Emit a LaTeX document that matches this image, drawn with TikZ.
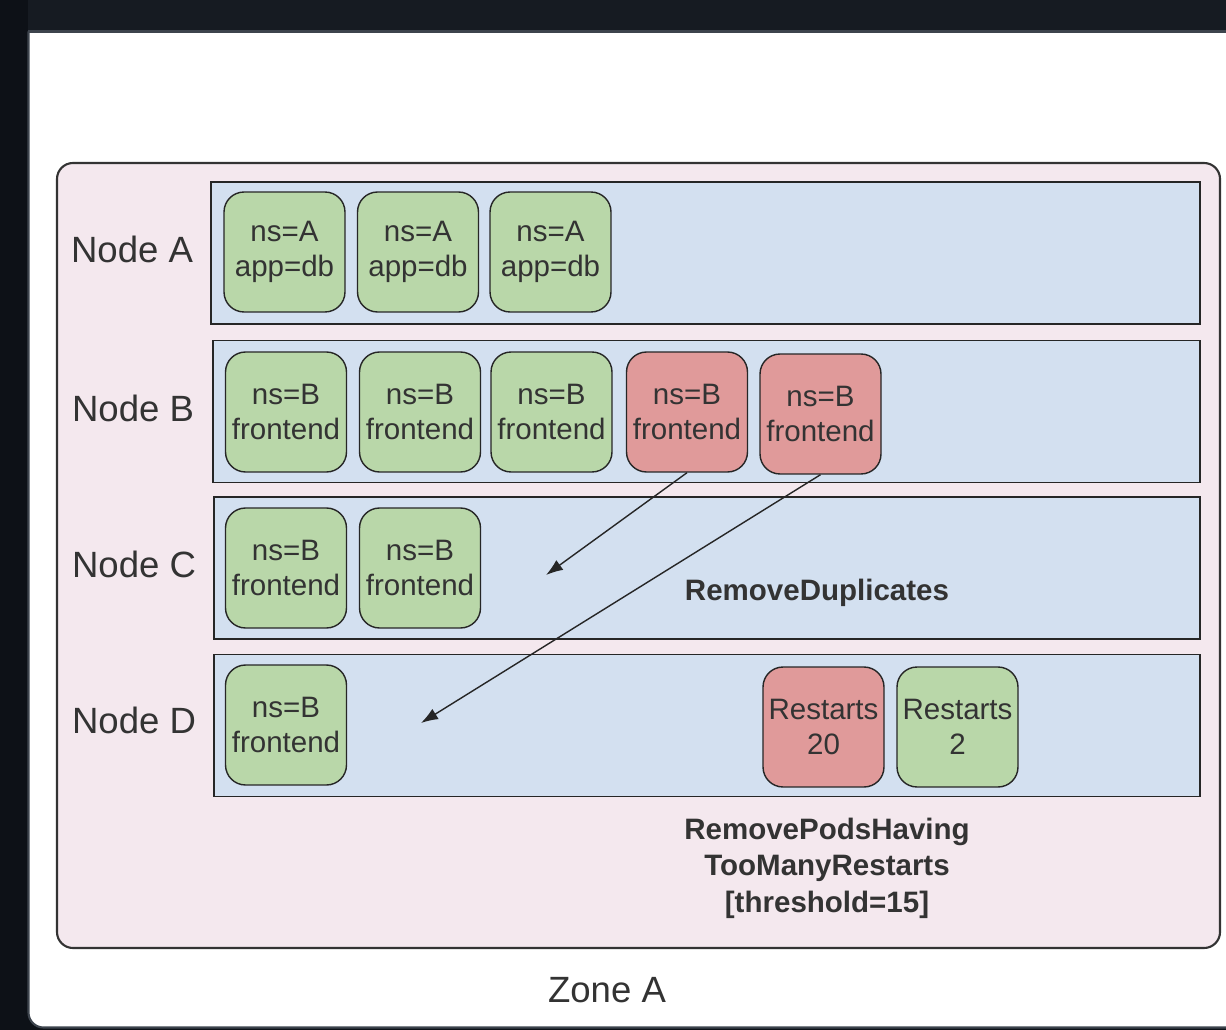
\documentclass[tikz,border=0pt]{standalone}
\usepackage{fontspec}
\setmainfont{Liberation Sans}
\usetikzlibrary{arrows.meta}

\definecolor{nacht}{HTML}{0D1117}
\definecolor{kopf}{HTML}{161B22}
\definecolor{rahmen}{HTML}{3D444D}
\definecolor{zonenrosa}{HTML}{F4E8EE}
\definecolor{zeilenblau}{HTML}{D3E0F0}
\definecolor{gruen}{HTML}{B9D7A9}
\definecolor{rot}{HTML}{E09A9A}

\begin{document}
\begin{tikzpicture}[
        x=0.02cm, y=-0.02cm,
        every node/.style={font=\fontsize{16.8pt}{20pt}\selectfont, text=black!80},
        zone/.style={draw=black!80, line width=1.2pt, fill=zonenrosa,
                     rounded corners=0.32cm},
        zeile/.style={draw=black!85, line width=1pt, fill=zeilenblau,
                      minimum height=2.84cm, inner sep=0pt},
        pod/.style={draw=black!85, line width=0.8pt, rounded corners=0.4cm,
                    minimum width=2.42cm, minimum height=2.4cm,
                    align=center, inner sep=0pt},
        gesund/.style={pod, fill=gruen},
        verdraengt/.style={pod, fill=rot},
        knotenname/.style={font=\fontsize{20.8pt}{25pt}\selectfont},
        regel/.style={font=\fontsize{16.8pt}{20.8pt}\selectfont\bfseries,
                      align=center},
        kante/.style={draw=black!85, line width=0.8pt,
                      -{Latex[length=3.4mm,width=2.4mm]}}
    ]
        \useasboundingbox (0,0) rectangle (1226,1030);

        % Fensterrahmen
        \fill[nacht] (0,0) rectangle (1226,1030);
        \fill[kopf] (28,0) rectangle (1226,31);
        \fill[white, rounded corners=0.3cm] (28.5,32.5) rectangle (1260,1027.5);
        \fill[white] (28.5,32.5) rectangle (80,80);
        \draw[rahmen, line width=1.2pt] (28,31.5) -- (1226,31.5);
        \draw[rahmen, line width=1.2pt, rounded corners=0.3cm]
            (28.5,31.5) -- (28.5,1027.5) -- (1260,1027.5);

        % Zone
        \draw[zone] (57,163) rectangle (1220,948);
        \node[knotenname] (zonename) at (607,990) {Zone A};

        % Knotenzeilen
        \node[zeile, minimum width=19.78cm] (zeileA) at (705.5,253) {};
        \node[zeile, minimum width=19.74cm] (zeileB) at (706.5,411.5) {};
        \node[zeile, minimum width=19.72cm] (zeileC) at (707,568) {};
        \node[zeile, minimum width=19.72cm] (zeileD) at (707,725.5) {};

        \node[knotenname] (nameA) at (132,249) {Node A};
        \node[knotenname] (nameB) at (133,408) {Node B};
        \node[knotenname] (nameC) at (134,564) {Node C};
        \node[knotenname] (nameD) at (134,720) {Node D};

        % Pods
        \node[gesund] (a1) at (284.5,252) {ns=A\\app=db};
        \node[gesund] (a2) at (418,252)   {ns=A\\app=db};
        \node[gesund] (a3) at (550.5,252) {ns=A\\app=db};

        \node[gesund]     (b1) at (286,412)   {ns=B\\frontend};
        \node[gesund]     (b2) at (420,412)   {ns=B\\frontend};
        \node[gesund]     (b3) at (551.5,412) {ns=B\\frontend};
        \node[verdraengt] (b4) at (687,412)   {ns=B\\frontend};
        \node[verdraengt] (b5) at (820.5,414) {ns=B\\frontend};

        \node[gesund] (c1) at (286,568) {ns=B\\frontend};
        \node[gesund] (c2) at (420,568) {ns=B\\frontend};

        \node[gesund]     (d1) at (286,725)   {ns=B\\frontend};
        \node[verdraengt] (d2) at (823.5,727) {Restarts\\20};
        \node[gesund]     (d3) at (957.5,727) {Restarts\\2};

        % Verschiebungen
        \coordinate (zielC) at (546,575);
        \coordinate (zielD) at (421,723);
        \draw[kante] (b4.south) -- (zielC);
        \draw[kante] (b5.south) -- (zielD);

        \node[regel] (dupl) at (817,593) {RemoveDuplicates};
        \node[regel] (restarts) at (827,868)
            {RemovePodsHaving\\TooManyRestarts\\{[}threshold=15{]}};
    \end{tikzpicture}
\end{document}
